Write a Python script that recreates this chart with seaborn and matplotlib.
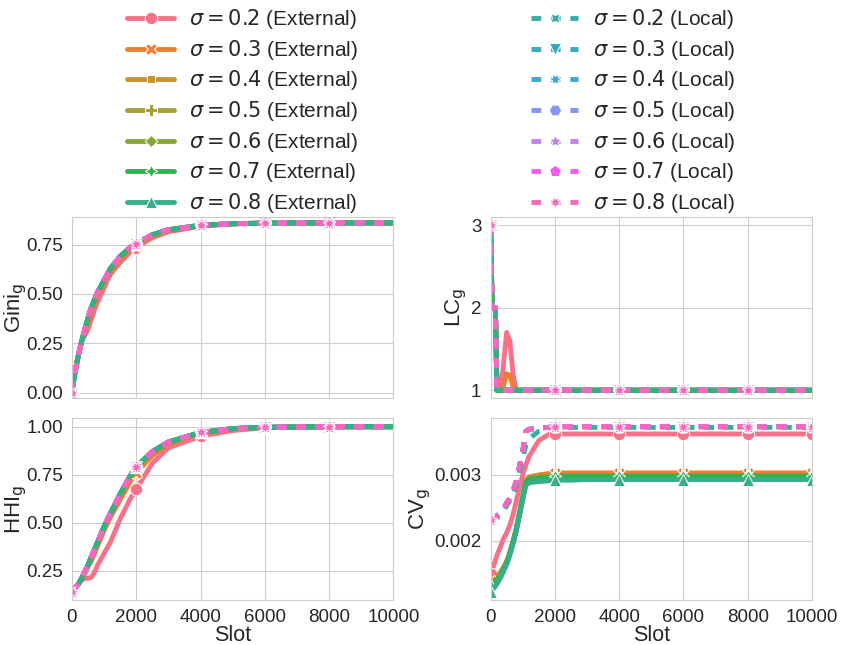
import numpy as np
import pandas as pd
import matplotlib
matplotlib.use("Agg")
import matplotlib.pyplot as plt
from matplotlib.ticker import MultipleLocator
import seaborn as sns

# slots at which the curves are sampled
SLOTS = [0, 50, 150, 200, 300, 400, 500, 600, 700, 800, 1000, 1100, 1200,
         1500, 1800, 2000, 2500, 3000, 4000, 5000, 6000, 8000, 10000]

SIGMAS = ["0.2", "0.3", "0.4", "0.5", "0.6", "0.7", "0.8"]
LABELS = [f"$\\sigma = {s}$ (External)" for s in SIGMAS] + \
         [f"$\\sigma = {s}$ (Local)" for s in SIGMAS]

# Gini_g
GINI_MAIN = [0.0, 0.06, 0.15, 0.19, 0.26, 0.32, 0.38, 0.43, 0.47, 0.51, 0.57, 0.60, 0.63,
             0.69, 0.735, 0.755, 0.80, 0.825, 0.848, 0.856, 0.859, 0.86, 0.86]
GINI_EXT_02 = [0.0, 0.06, 0.15, 0.19, 0.26, 0.29, 0.32, 0.37, 0.42, 0.46, 0.53, 0.57, 0.60,
               0.66, 0.71, 0.735, 0.785, 0.815, 0.843, 0.855, 0.858, 0.86, 0.86]
GINI_EXT_03 = [0.0, 0.06, 0.15, 0.19, 0.26, 0.30, 0.35, 0.40, 0.45, 0.49, 0.55, 0.58, 0.61,
               0.675, 0.72, 0.745, 0.79, 0.82, 0.846, 0.855, 0.858, 0.86, 0.86]

# LC_g
LC_MAIN = [3, 2, 2, 1, 1, 1, 1, 1, 1, 1, 1, 1, 1, 1, 1, 1, 1, 1, 1, 1, 1, 1, 1]
LC_EXT_02 = [3, 2, 2, 1, 1.0, 1.3, 1.7, 1.6, 1.2, 1.0, 1, 1, 1, 1, 1, 1, 1, 1, 1, 1, 1, 1, 1]
LC_EXT_03 = [3, 2, 2, 1, 1.0, 1.05, 1.2, 1.18, 1.05, 1.0, 1, 1, 1, 1, 1, 1, 1, 1, 1, 1, 1, 1, 1]

# HHI_g
HHI_MAIN = [0.14, 0.15, 0.17, 0.18, 0.21, 0.245, 0.28, 0.32, 0.36, 0.40, 0.48, 0.515, 0.55,
            0.65, 0.74, 0.79, 0.87, 0.92, 0.97, 0.99, 0.997, 1.0, 1.0]
HHI_EXT_02 = [0.14, 0.15, 0.17, 0.18, 0.20, 0.21, 0.21, 0.215, 0.24, 0.28, 0.34, 0.37, 0.40,
              0.52, 0.62, 0.675, 0.81, 0.89, 0.95, 0.98, 0.995, 1.0, 1.0]
HHI_EXT_03 = [0.14, 0.15, 0.17, 0.18, 0.205, 0.235, 0.27, 0.30, 0.34, 0.38, 0.46, 0.495, 0.53,
              0.62, 0.71, 0.76, 0.85, 0.91, 0.965, 0.988, 0.996, 1.0, 1.0]

# CV_g
CV_LOCAL = [0.00232, 0.00233, 0.00236, 0.00238, 0.00242, 0.00249, 0.00257, 0.00265, 0.00276,
            0.00290, 0.00335, 0.00366, 0.00369, 0.00371, 0.00372, 0.00373, 0.00373, 0.00373,
            0.00373, 0.00373, 0.00373, 0.00373, 0.00373]
CV_LOCAL_02 = [0.00230, 0.00231, 0.00233, 0.00235, 0.00239, 0.00246, 0.00253, 0.00261, 0.00271,
               0.00284, 0.00325, 0.00345, 0.00355, 0.00366, 0.00370, 0.00372, 0.00372, 0.00372,
               0.00372, 0.00372, 0.00372, 0.00372, 0.00372]
CV_EXT_02 = [0.00150, 0.00156, 0.00170, 0.00178, 0.00190, 0.00203, 0.00212, 0.00224, 0.00240,
             0.00260, 0.00300, 0.00315, 0.00328, 0.00352, 0.00361, 0.00362, 0.00362, 0.00362,
             0.00362, 0.00362, 0.00362, 0.00362, 0.00362]
CV_EXT_03 = [0.00140, 0.00141, 0.00144, 0.00146, 0.00152, 0.00160, 0.00169, 0.00183, 0.00200,
             0.00219, 0.00268, 0.00292, 0.00297, 0.00300, 0.00302, 0.00303, 0.00303, 0.00303,
             0.00303, 0.00303, 0.00303, 0.00303, 0.00303]
CV_EXT_MID = [0.00132, 0.00134, 0.00138, 0.00141, 0.00148, 0.00157, 0.00167, 0.00181, 0.00198,
              0.00217, 0.00265, 0.00289, 0.00294, 0.00296, 0.00297, 0.00298, 0.00298, 0.00298,
              0.00298, 0.00298, 0.00298, 0.00298, 0.00298]
CV_EXT_08 = [0.00123, 0.00126, 0.00131, 0.00135, 0.00143, 0.00153, 0.00164, 0.00178, 0.00195,
             0.00214, 0.00262, 0.00284, 0.00288, 0.00290, 0.00291, 0.00292, 0.00292, 0.00293,
             0.00293, 0.00293, 0.00293, 0.00293, 0.00293]

METRICS = {
    "Gini$_{\\mathrm{g}}$": [GINI_EXT_02, GINI_EXT_03] + [GINI_MAIN] * 12,
    "LC$_{\\mathrm{g}}$": [LC_EXT_02, LC_EXT_03] + [LC_MAIN] * 12,
    "HHI$_{\\mathrm{g}}$": [HHI_EXT_02, HHI_EXT_03] + [HHI_MAIN] * 12,
    "CV$_{\\mathrm{g}}$": [CV_EXT_02, CV_EXT_03] + [CV_EXT_MID] * 4 + [CV_EXT_08]
                          + [CV_LOCAL_02] + [CV_LOCAL] * 6,
}
# where each y label sits (axes fraction)
LABEL_X = [-0.134, -0.066, -0.134, -0.18]

sns.set_style("whitegrid")
plt.rcParams["font.family"] = ["Liberation Sans", "DejaVu Sans"]
plt.rcParams["axes.edgecolor"] = "#cccccc"

palette = sns.color_palette("husl", 14)
marker_list = ["o", "X", (4, 0, 45), "P", (4, 0, 0), (4, 1, 0), "^",
               (4, 1, 45), "v", (6, 1, 30), (6, 0, 30), (5, 1, 0), (5, 0, 0), (7, 1, 360 / 14)]
markers = dict(zip(LABELS, marker_list))
dashes = {lab: ("" if i < 7 else (2, 2)) for i, lab in enumerate(LABELS)}

fig, axes = plt.subplots(2, 2, figsize=(8.41, 6.45), dpi=100, sharex=True)
fig.subplots_adjust(left=0.0856, right=0.9655, bottom=0.0698, top=0.6636,
                    wspace=0.302, hspace=0.11)

for ax, (ylabel, series), lx in zip(axes.flat, METRICS.items(), LABEL_X):
    rows = []
    for lab, vals in zip(LABELS, series):
        for s, v in zip(SLOTS, vals):
            rows.append((s, v, lab))
    df = pd.DataFrame(rows, columns=["slot", "value", "series"])
    marks = [SLOTS.index(s) for s in [0, 2000, 4000, 6000, 8000]]
    if ylabel.startswith("CV"):
        marks.append(SLOTS.index(10000))
    sns.lineplot(data=df, x="slot", y="value", hue="series", style="series",
                 hue_order=LABELS, style_order=LABELS, palette=palette,
                 markers=markers, dashes=dashes, markevery=marks,
                 linewidth=3.5, markersize=9, errorbar=None, legend=False, ax=ax)
    ax.set_xlim(0, 10000)
    ax.set_xticks([0, 2000, 4000, 6000, 8000, 10000])
    ax.set_ylabel(ylabel, fontsize=16)
    ax.yaxis.set_label_coords(lx, 0.5)
    ax.set_xlabel("Slot", fontsize=15.5, labelpad=-1)
    ax.tick_params(labelsize=13.5, pad=3)

axes[0, 0].set_yticks([0, 0.25, 0.5, 0.75])
axes[0, 0].set_ylim(-0.03, 0.89)
axes[0, 1].yaxis.set_major_locator(MultipleLocator(1))
axes[1, 0].set_yticks([0.25, 0.5, 0.75, 1.0])
axes[1, 1].set_yticks([0.002, 0.003])
axes[0, 0].set_xlabel("")
axes[0, 1].set_xlabel("")

handles = axes[0, 0].get_lines()[:14]
fig.legend(handles, LABELS, loc="upper center", bbox_to_anchor=(0.513, 1.018),
           ncol=2, frameon=False, fontsize=15, handlelength=2.26,
           handletextpad=0.72, columnspacing=8.3, labelspacing=0.32)

plt.savefig("out.png", dpi=100)
